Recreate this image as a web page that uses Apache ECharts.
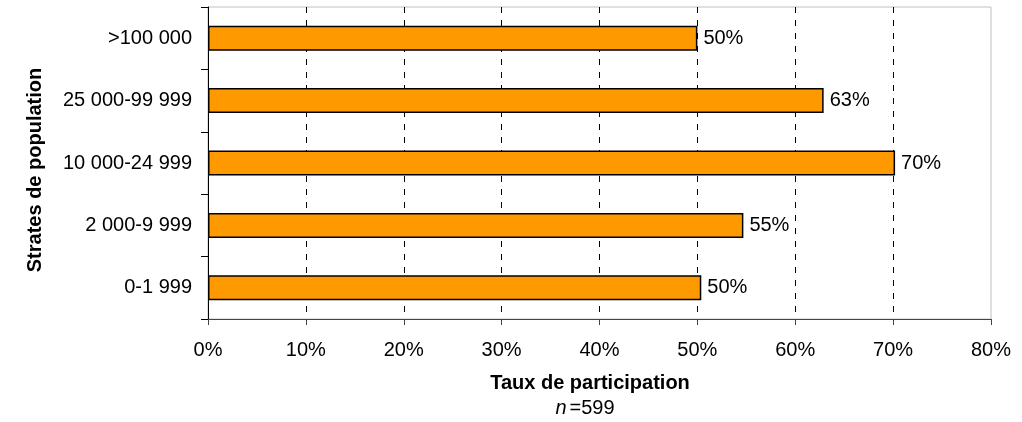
<!DOCTYPE html>
<html><head><meta charset="utf-8">
<script src="https://cdn.jsdelivr.net/npm/echarts@6/dist/echarts.min.js"></script>
<style>html,body{margin:0;padding:0;background:#fff}#c{width:1022px;height:422px}</style>
</head><body><div id="c"></div>
<script>
const categories = ['0-1 999', '2 000-9 999', '10 000-24 999', '25 000-99 999', '>100 000'];
const values = [50.4, 54.7, 70.2, 62.9, 50.0];
const xTicks = [0, 10, 20, 30, 40, 50, 60, 70, 80];
const xTitle = 'Taux de participation';
const yTitle = 'Strates de population';
const note = '599';

const F = '"Liberation Sans", Arial, sans-serif';
const chart = echarts.init(document.getElementById('c'), null, {renderer: 'canvas'});
chart.setOption({
  animation: false,
  grid: {left: 208, right: 31, top: 7, bottom: 103, show: true, borderColor: '#c0c0c0', borderWidth: 1},
  xAxis: {
    type: 'value', min: xTicks[0], max: xTicks[xTicks.length - 1], interval: 10,
    axisLine: {show: true, lineStyle: {color: '#444', width: 1}},
    axisTick: {show: true, inside: false, length: 6, lineStyle: {color: '#444'}},
    axisLabel: {margin: 21, fontFamily: F, fontSize: 20, color: '#000', formatter: v => v + '%'},
    splitLine: {show: true, showMinLine: false, showMaxLine: false, lineStyle: {color: '#000', type: [6, 7], width: 1}}
  },
  yAxis: {
    type: 'category', data: categories,
    axisLine: {show: true, lineStyle: {color: '#000', width: 1}},
    axisTick: {show: true, length: 7, lineStyle: {color: '#000'}},
    axisLabel: {margin: 16, fontFamily: F, fontSize: 20, color: '#000'},
    splitLine: {show: false}
  },
  series: [{
    type: 'bar', data: values, barWidth: 25,
    itemStyle: {color: '#FF9900', borderColor: '#000', borderWidth: 1.5},
    label: {show: true, position: 'right', distance: 6, fontFamily: F, fontSize: 20, color: '#000',
      formatter: p => Math.round(p.value) + '%'}
  }],
  graphic: [
    {type: 'text', x: 590, y: 383, style: {text: xTitle, font: 'bold 20px ' + F, fill: '#000', align: 'center', verticalAlign: 'middle'}},
    {type: 'text', x: 585, y: 408, style: {
      rich: {i: {fontFamily: F, fontSize: 20, fontStyle: 'italic', fill: '#000', padding: [0, 3, 0, 0]}, n: {fontFamily: F, fontSize: 20, fill: '#000'}},
      text: '{i|n}{n|=' + note + '}', align: 'center', verticalAlign: 'middle'}},
    {type: 'text', x: 35, y: 170, rotation: Math.PI / 2, style: {text: yTitle, font: 'bold 20px ' + F, fill: '#000', align: 'center', verticalAlign: 'middle'}}
  ]
});
</script></body></html>
